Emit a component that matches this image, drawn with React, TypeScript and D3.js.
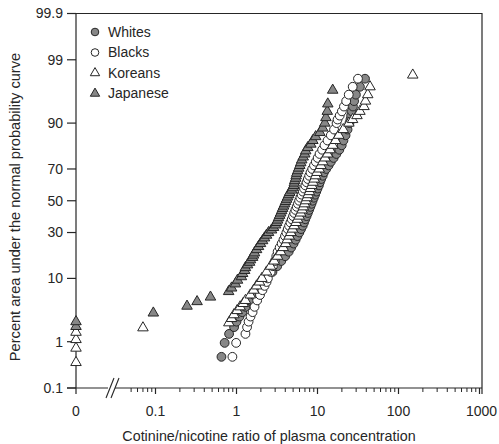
import React, { useRef, useEffect } from "react";
import * as d3 from "d3";

// [cotinine/nicotine ratio, cumulative percent]; ratio 0 is drawn at the broken "0" position
const whites: [number, number][] = [
  [0.652, 0.5], [0.714, 0.95], [0.81, 1.4], [0.934, 1.85], [1.0, 2.3], [1.09, 2.8], [1.18, 3.3],
  [1.29, 4], [1.45, 5], [1.64, 6], [1.84, 7], [2.02, 8], [2.21, 9], [2.39, 10], [2.78, 12],
  [3.18, 14], [3.57, 16], [3.99, 18], [4.41, 20], [4.73, 22], [5.07, 24], [5.37, 26], [5.65, 28],
  [5.97, 30], [6.26, 32], [6.57, 34], [6.82, 36], [7.06, 38], [7.33, 40], [7.59, 42], [7.87, 44],
  [8.15, 46], [8.43, 48], [8.7, 50], [9.0, 52], [9.33, 54], [9.66, 56], [10.0, 58], [10.4, 60],
  [10.7, 62], [11.1, 64], [11.6, 66], [12.0, 68], [12.8, 70], [13.7, 72], [14.6, 74], [15.8, 76],
  [17.1, 78], [18.6, 80], [19.9, 82], [20.9, 84], [22.2, 86], [23.5, 88], [24.8, 90], [25.5, 91],
  [26.0, 92], [26.6, 93], [27.4, 94], [28.3, 95], [29.8, 96], [33.4, 97], [38.6, 97.8],
];

const blacks: [number, number][] = [
  [0.89, 0.5], [0.99, 0.95], [1.29, 1.4], [1.35, 1.85], [1.41, 2.3], [1.49, 2.8], [1.58, 3.3],
  [1.67, 4], [1.8, 5], [1.95, 6], [2.09, 7], [2.22, 8], [2.35, 9], [2.44, 10], [2.64, 12],
  [2.81, 14], [2.97, 16], [3.1, 18], [3.22, 20], [3.41, 22], [3.61, 24], [3.8, 26], [3.97, 28],
  [4.13, 30], [4.29, 32], [4.46, 34], [4.63, 36], [4.81, 38], [4.99, 40], [5.16, 42], [5.34, 44],
  [5.54, 46], [5.73, 48], [5.93, 50], [6.14, 52], [6.36, 54], [6.59, 56], [6.82, 58], [7.08, 60],
  [7.33, 62], [7.6, 64], [7.89, 66], [8.19, 68], [8.6, 70], [9.05, 72], [9.53, 74], [10.05, 76],
  [10.6, 78], [11.4, 80], [12.2, 82], [13.3, 84], [14.6, 86], [16.0, 88], [17.2, 90], [17.7, 91],
  [18.8, 92], [20.0, 93], [21.2, 94], [22.6, 95], [24.3, 96], [27.2, 97], [31.6, 97.8],
];

const koreans: [number, number][] = [
  [0, 0.38], [0, 0.75], [0, 1.1], [0, 1.5], [0.07, 1.8],
  [0.805, 2.2], [0.87, 2.6], [0.93, 3.0], [1.02, 3.5], [1.11, 4], [1.21, 4.5], [1.29, 5],
  [1.48, 6], [1.63, 7], [1.77, 8], [1.92, 9], [2.06, 10], [2.35, 12], [2.63, 14], [2.92, 16],
  [3.21, 18], [3.51, 20], [3.77, 22], [4.04, 24], [4.23, 26], [4.46, 28], [4.68, 30], [4.91, 32],
  [5.16, 34], [5.42, 36], [5.67, 38], [5.93, 40], [6.19, 42], [6.46, 44], [6.69, 46], [6.92, 48],
  [7.16, 50], [7.41, 52], [7.67, 54], [7.94, 56], [8.19, 58], [8.5, 60], [8.79, 62], [9.13, 64],
  [9.47, 66], [9.84, 68], [10.5, 70], [11.0, 72], [11.6, 74], [12.4, 76], [13.3, 78], [14.3, 80],
  [15.4, 82], [16.7, 84], [18.3, 86], [20.8, 88], [24.4, 90], [27.1, 91], [30.7, 92], [33.4, 93],
  [37.5, 94], [39.1, 95], [41.7, 96], [44.5, 97], [150, 98.1],
];

const japanese: [number, number][] = [
  [0, 1.9], [0, 2.3], [0.094, 3.2], [0.245, 4.1], [0.326, 4.8], [0.477, 5.6],
  [0.8, 6.7], [0.87, 7.5], [0.97, 8.5], [1.03, 9.5], [1.15, 10.5], [1.19, 11.5], [1.26, 12.5],
  [1.29, 13.5], [1.37, 14.5], [1.45, 15.5], [1.49, 16.5], [1.58, 17.5], [1.62, 18.5], [1.67, 19.5],
  [1.77, 21], [1.87, 22.5], [1.98, 24], [2.1, 25.5], [2.22, 27], [2.35, 28.5], [2.49, 30],
  [2.71, 31.5], [2.87, 33], [3.04, 34.5], [3.13, 36], [3.22, 37.5], [3.31, 39], [3.41, 40.5],
  [3.51, 42], [3.61, 43.5], [3.71, 45], [3.82, 46.5], [3.93, 48], [4.04, 49.5], [4.16, 51],
  [4.28, 52.5], [4.41, 54], [4.54, 55.5], [4.81, 57], [4.95, 58.5], [5.09, 60], [5.16, 61.5],
  [5.23, 63], [5.38, 64.5], [5.45, 66], [5.54, 67.5], [5.7, 69], [5.87, 70.5], [6.04, 72],
  [6.21, 73.5], [6.39, 75], [6.66, 76.5], [6.96, 78], [7.16, 79.5], [7.59, 81], [8.27, 82.5],
  [8.76, 84], [9.5, 85.5], [10.7, 87], [11.6, 88.5], [12.3, 90], [12.7, 91.5], [13.2, 93],
  [13.4, 94.5], [15.4, 96.6],
];

const yTicks = [0.1, 1, 10, 30, 50, 70, 90, 99, 99.9];
const xTicks = [0.1, 1, 10, 100, 1000];
const xTickLabels = ["0.1", "1", "10", "100", "1000"];
const seriesNames = ["Whites", "Blacks", "Koreans", "Japanese"];

// inverse of the standard normal CDF (Acklam)
function probit(p: number) {
  const a = [-39.69683028665376, 220.9460984245205, -275.9285104469687, 138.357751867269, -30.66479806614716, 2.506628277459239];
  const b = [-54.47609879822406, 161.5858368580409, -155.6989798598866, 66.80131188771972, -13.28068155288572];
  const c = [-0.007784894002430293, -0.3223964580411365, -2.400758277161838, -2.549732539343734, 4.374664141464968, 2.938163982698783];
  const d = [0.007784695709041462, 0.3224671290700398, 2.445134137142996, 3.754408661907416];
  const lo = 0.02425;
  if (p < lo) {
    const q = Math.sqrt(-2 * Math.log(p));
    return (((((c[0] * q + c[1]) * q + c[2]) * q + c[3]) * q + c[4]) * q + c[5]) / ((((d[0] * q + d[1]) * q + d[2]) * q + d[3]) * q + 1);
  }
  if (p <= 1 - lo) {
    const q = p - 0.5;
    const r = q * q;
    return ((((((a[0] * r + a[1]) * r + a[2]) * r + a[3]) * r + a[4]) * r + a[5]) * q) / (((((b[0] * r + b[1]) * r + b[2]) * r + b[3]) * r + b[4]) * r + 1);
  }
  const q = Math.sqrt(-2 * Math.log(1 - p));
  return -(((((c[0] * q + c[1]) * q + c[2]) * q + c[3]) * q + c[4]) * q + c[5]) / ((((d[0] * q + d[1]) * q + d[2]) * q + d[3]) * q + 1);
}

const Chart = () => {
  const ref = useRef<SVGSVGElement>(null);

  useEffect(() => {
    const svg = d3.select(ref.current);
    svg.selectAll("*").remove();

    const width = 499;
    const height = 444;
    const zeroX = 76;
    const right = 482;
    const ink = "#262626";
    const gray = "#878787";
    const font = "Liberation Sans, Arial, sans-serif";

    svg.attr("width", width).attr("height", height);

    const x = d3.scaleLog().domain([0.1, 1000]).range([155.5, 479.5]);
    const y = d3.scaleLinear().domain([probit(0.001), probit(0.999)]).range([388, 13.5]);
    const py = (p: number) => y(probit(p / 100));
    const px = (v: number) => (v === 0 ? zeroX : x(v));

    const top = py(99.9);
    const bottom = py(0.1);

    // frame: left axis, top, right
    svg.append("path")
      .attr("d", `M${zeroX},${bottom + 6}V${top}H${right}V${bottom}`)
      .attr("fill", "none").attr("stroke", ink).attr("stroke-width", 1.2);

    // x axis line with break
    svg.append("line").attr("x1", 67).attr("x2", 108).attr("y1", bottom).attr("y2", bottom)
      .attr("stroke", ink).attr("stroke-width", 1.2);
    svg.append("line").attr("x1", 115).attr("x2", right).attr("y1", bottom).attr("y2", bottom)
      .attr("stroke", ink).attr("stroke-width", 1.2);
    [0, 5].forEach((o) => {
      svg.append("line")
        .attr("x1", 106 + o).attr("y1", bottom + 10)
        .attr("x2", 114 + o).attr("y2", bottom - 10)
        .attr("stroke", ink).attr("stroke-width", 1.1);
    });

    // y ticks
    const yg = svg.append("g");
    yTicks.forEach((t) => {
      yg.append("line").attr("x1", 67).attr("x2", zeroX).attr("y1", py(t)).attr("y2", py(t))
        .attr("stroke", ink).attr("stroke-width", 1.2);
      yg.append("text").attr("x", 63).attr("y", py(t)).attr("dy", "0.35em")
        .attr("text-anchor", "end").attr("font-family", font).attr("font-size", 14)
        .attr("fill", ink).text(String(t));
    });

    // x ticks: minor then major
    const minor: number[] = [];
    [0.05, 0.06, 0.07, 0.08, 0.09].forEach((v) => minor.push(v));
    [0.1, 1, 10, 100].forEach((dec) => {
      for (let k = 2; k <= 9; k++) minor.push(dec * k);
    });
    svg.append("g").selectAll("line").data(minor).join("line")
      .attr("x1", (d) => x(d)).attr("x2", (d) => x(d))
      .attr("y1", bottom).attr("y2", bottom + 4)
      .attr("stroke", ink).attr("stroke-width", 1);
    svg.append("g").selectAll("line").data(xTicks).join("line")
      .attr("x1", (d) => x(d)).attr("x2", (d) => x(d))
      .attr("y1", bottom).attr("y2", bottom + 6)
      .attr("stroke", ink).attr("stroke-width", 1.2);
    svg.append("line").attr("x1", right).attr("x2", right).attr("y1", bottom).attr("y2", bottom + 6)
      .attr("stroke", ink).attr("stroke-width", 1.2);

    const xl = svg.append("g").attr("font-family", font).attr("font-size", 14)
      .attr("fill", ink).attr("text-anchor", "middle");
    xl.append("text").attr("x", zeroX).attr("y", 416).text("0");
    xTicks.forEach((t, i) => {
      xl.append("text").attr("x", x(t) + (i === 4 ? 2 : 0)).attr("y", 416).text(xTickLabels[i]);
    });

    // axis titles
    svg.append("text").attr("x", 269).attr("y", 441).attr("text-anchor", "middle")
      .attr("font-family", font).attr("font-size", 14.3).attr("fill", ink)
      .text("Cotinine/nicotine ratio of plasma concentration");
    svg.append("text").attr("transform", "translate(20,207) rotate(-90)")
      .attr("text-anchor", "middle").attr("font-family", font).attr("font-size", 14.6)
      .attr("fill", ink).text("Percent area under the normal probability curve");

    const tri = d3.symbol().type(d3.symbolTriangle).size(48)();
    const triSmall = d3.symbol().type(d3.symbolTriangle).size(38)();

    const drawCircles = (data: [number, number][], fill: string) => {
      svg.append("g").selectAll("circle").data(data).join("circle")
        .attr("cx", (d) => px(d[0])).attr("cy", (d) => py(d[1])).attr("r", 4.4)
        .attr("fill", fill).attr("stroke", ink).attr("stroke-width", 1);
    };
    const drawTriangles = (data: [number, number][], fill: string) => {
      svg.append("g").selectAll("path").data(data).join("path")
        .attr("d", tri)
        .attr("transform", (d) => `translate(${px(d[0])},${py(d[1])})`)
        .attr("fill", fill).attr("stroke", ink).attr("stroke-width", 1);
    };

    drawCircles(whites, gray);
    drawCircles(blacks, "#fff");
    drawTriangles(koreans, "#fff");
    drawTriangles(japanese, gray);

    // legend
    const lg = svg.append("g").attr("font-family", font).attr("font-size", 14).attr("fill", ink);
    seriesNames.forEach((name, i) => {
      const cy = 32 + i * 20.5;
      if (i < 2) {
        lg.append("circle").attr("cx", 95).attr("cy", cy).attr("r", 3.8)
          .attr("fill", i === 0 ? gray : "#fff").attr("stroke", ink).attr("stroke-width", 1);
      } else {
        lg.append("path").attr("d", triSmall).attr("transform", `translate(95,${cy})`)
          .attr("fill", i === 3 ? gray : "#fff").attr("stroke", ink).attr("stroke-width", 1);
      }
      lg.append("text").attr("x", 108).attr("y", cy).attr("dy", "0.35em").text(name);
    });
  }, []);

  return <svg ref={ref} style={{ position: "absolute", left: 0, top: 0 }}></svg>;
};

export default function App() {
  return <Chart />;
}
